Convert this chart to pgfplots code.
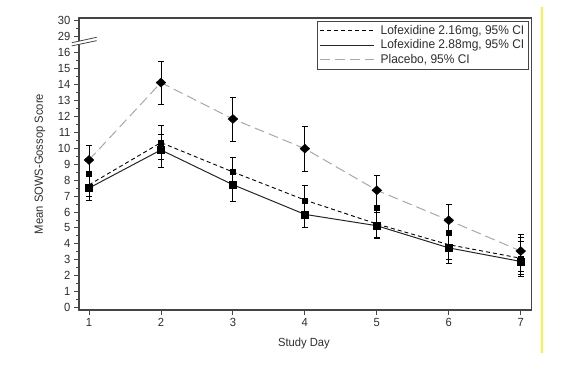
\documentclass[border=0pt]{standalone}
\usepackage{fontspec}
\setmainfont{Liberation Sans}[FakeStretch=0.95]
\usepackage{pgfplots}
\pgfplotsset{compat=1.18}
\usepackage{pgfplotstable}
\definecolor{axgray}{HTML}{454545}
\definecolor{txtgray}{HTML}{2E2E2E}
\definecolor{plgray}{HTML}{A8A8A8}
\definecolor{ylw}{HTML}{F5F542}

\pgfplotstableread{
day mean lo hi
1 9.26 8.40 10.16
2 14.11 12.75 15.42
3 11.83 10.45 13.17
4 9.97 8.55 11.35
5 7.36 6.40 8.28
6 5.48 4.50 6.48
7 3.55 2.26 4.58
}\placebo

\pgfplotstableread{
day line mk lo hi
1 7.70 8.38 7.00 8.40
2 10.35 10.35 9.30 11.45
3 8.51 8.51 7.60 9.43
4 6.75 6.71 5.80 7.65
5 5.25 6.29 4.40 6.20
6 3.95 4.70 3.03 4.80
7 3.10 3.10 2.11 4.41
}\lofA

\pgfplotstableread{
day mean lo hi
1 7.50 6.73 8.30
2 9.89 8.80 10.89
3 7.71 6.69 8.60
4 5.85 5.02 6.70
5 5.14 4.33 6.00
6 3.75 2.78 4.70
7 2.90 1.94 4.18
}\lofB

\begin{document}
\begin{tikzpicture}[font=\fontsize{11.8}{13}\selectfont]
\useasboundingbox (-79pt,-62pt) rectangle (485pt,310pt);
\begin{axis}[
  at={(0pt,0pt)}, anchor=south west,
  scale only axis, width=452.5pt, height=292pt,
  xmin=0.861, xmax=7.15, ymin=-0.144, ymax=18.16,
  clip=false,
  axis line style={axgray, line width=1.1pt},
  xtick={1,2,3,4,5,6,7}, xticklabels={1,2,3,4,5,6,7},
  ytick={0,1,2,3,4,5,6,7,8,9,10,11,12,13,14,15,16,17,18},
  yticklabels={0,1,2,3,4,5,6,7,8,9,10,11,12,13,14,15,16,29,30},
  minor ytick={0.5,1.5,...,15.5,17.5},
  tick align=outside, tick pos=left,
  major tick length=5pt, minor tick length=3pt,
  every tick/.style={axgray, line width=0.9pt},
  tick label style={text=txtgray},
  /pgf/number format/assume math mode=true,
  xlabel={Study Day},
  ylabel={Mean SOWS-Gossop Score},
  every axis x label/.style={at={(axis description cs:0.497,-0.113)}, anchor=center, text=txtgray},
  every axis y label/.style={at={(axis description cs:-0.0862,0.5)}, rotate=90, anchor=center, text=txtgray},
  legend style={at={(rel axis cs:0.994,0.991)}, anchor=north east, draw=axgray, line width=0.9pt,
    font=\fontsize{12.6}{12.6}\selectfont, row sep=0pt, inner sep=2pt, cells={anchor=west}, text=txtgray},
  legend image code/.code={\draw[#1] (0pt,0pt) -- (54pt,0pt); \path (58pt,0pt);},
]
\addplot[black, line width=0.9pt, dash pattern=on 4pt off 3pt] table[x=day,y=line]{\lofA};
\addlegendentry{Lofexidine 2.16mg, 95\% CI}
\addplot[black!85, line width=1pt] table[x=day,y=mean]{\lofB};
\addlegendentry{Lofexidine 2.88mg, 95\% CI}
\addplot[plgray, line width=1pt, dash pattern=on 10pt off 5pt] table[x=day,y=mean]{\placebo};
\addlegendentry{Placebo, 95\% CI}

\addplot[forget plot, only marks, black, mark=diamond*, mark size=4.5pt, mark options={xscale=1.45},
  error bars/.cd, y dir=both, y explicit,
  error bar style={black, line width=0.9pt},
  error mark options={rotate=90, mark size=3pt, black, line width=0.9pt, xscale=1}]
  table[x=day, y=mean, y error plus expr=\thisrow{hi}-\thisrow{mean}, y error minus expr=\thisrow{mean}-\thisrow{lo}]{\placebo};
\addplot[forget plot, only marks, black, mark=square*, mark size=2.5pt,
  error bars/.cd, y dir=both, y explicit,
  error bar style={black, line width=0.9pt},
  error mark options={rotate=90, mark size=3pt, black, line width=0.9pt}]
  table[x=day, y=mk, y error plus expr=\thisrow{hi}-\thisrow{mk}, y error minus expr=\thisrow{mk}-\thisrow{lo}]{\lofA};
\addplot[forget plot, only marks, black, mark=square*, mark size=3.5pt,
  error bars/.cd, y dir=both, y explicit,
  error bar style={black, line width=0.9pt},
  error mark options={rotate=90, mark size=3pt, black, line width=0.9pt}]
  table[x=day, y=mean, y error plus expr=\thisrow{hi}-\thisrow{mean}, y error minus expr=\thisrow{mean}-\thisrow{lo}]{\lofB};

\coordinate (b1) at (axis cs:0.76,16.41);
\coordinate (b2) at (axis cs:1.107,16.74);
\coordinate (b3) at (axis cs:1.107,16.95);
\coordinate (b4) at (axis cs:0.76,16.61);
\end{axis}
\fill[white] (b1) -- (b2) -- (b3) -- (b4) -- cycle;
\draw[axgray, line width=0.8pt] (b1) -- (b2);
\draw[axgray, line width=0.8pt] (b4) -- (b3);
\draw[ylw, line width=2pt] (463pt,303pt) -- (463pt,-43pt);
\end{tikzpicture}
\end{document}
